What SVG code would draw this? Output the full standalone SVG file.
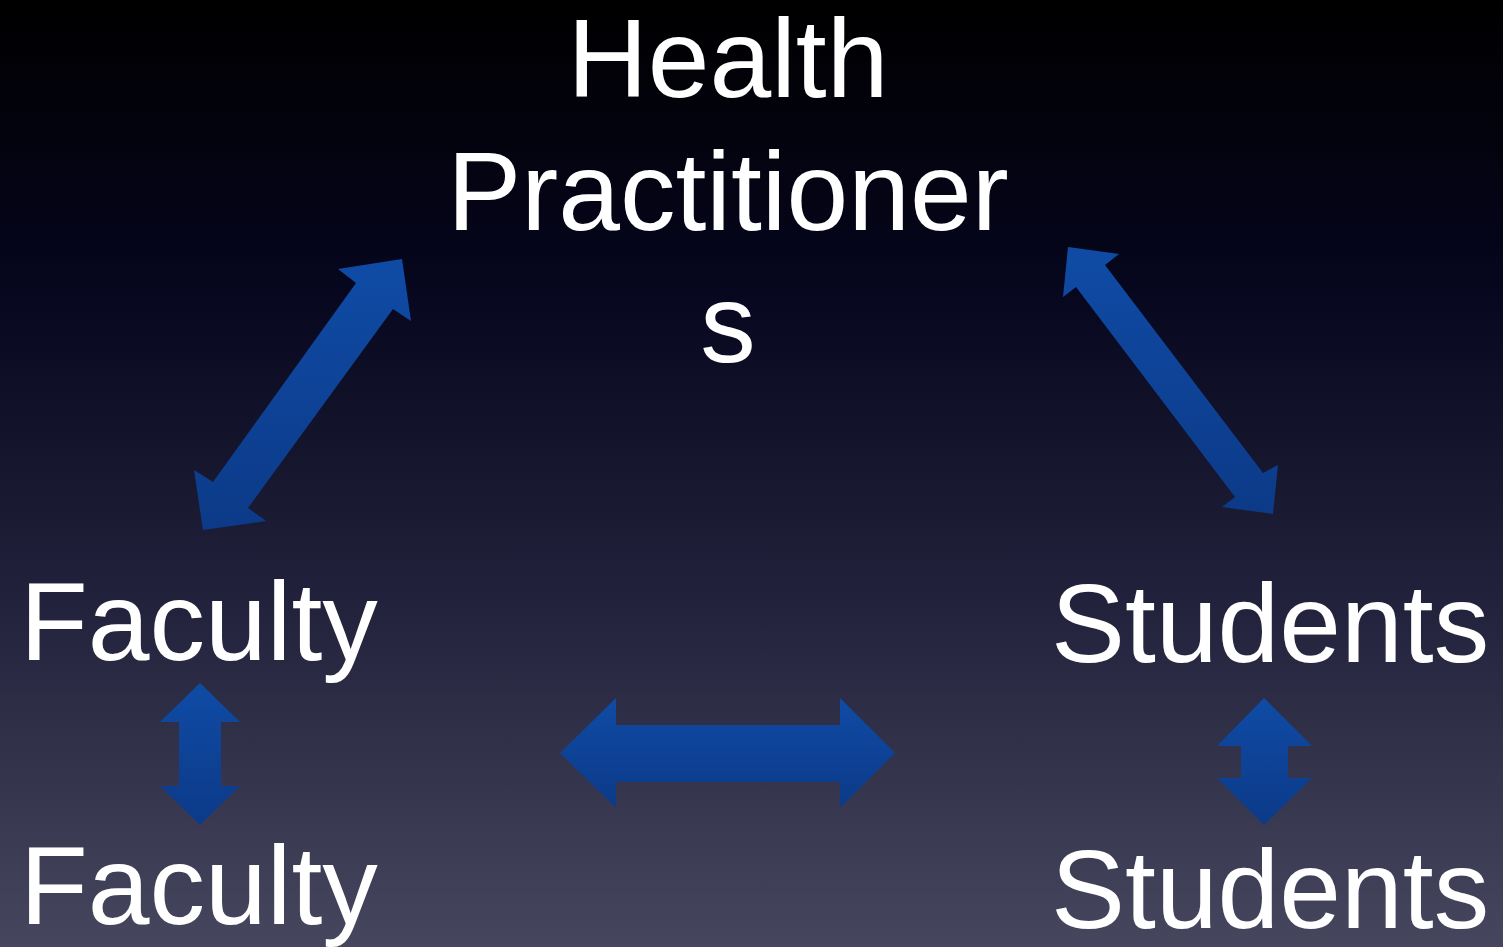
<svg xmlns="http://www.w3.org/2000/svg" width="1503" height="947" viewBox="0 0 1503 947">
<defs>
<linearGradient id="bg" x1="0" y1="0" x2="0" y2="1">
<stop offset="0" stop-color="#000000"/>
<stop offset="0.3" stop-color="#06061e"/>
<stop offset="0.65" stop-color="#23233d"/>
<stop offset="1" stop-color="#46475e"/>
</linearGradient>
<linearGradient id="arr" x1="0" y1="0" x2="0" y2="1">
<stop offset="0" stop-color="#0f4ba5"/>
<stop offset="1" stop-color="#0c3a88"/>
</linearGradient>
<style>
.lbl{font-family:"Liberation Sans",Arial,sans-serif;font-size:111px;fill:#ffffff}
.arrow{fill:url(#arr)}
</style>
</defs>
<rect width="1503" height="947" fill="url(#bg)"/>
<g id="connectors">
<polygon class="arrow" points="402,259 411,321 393,309 248,508 266,521 203,530 194,470 213,482 356,283 338,269"/>
<polygon class="arrow" points="1068,247 1119,254 1105,265 1263,473 1278,465 1273,514 1222,507 1235,497 1076,287 1063,297"/>
<polygon class="arrow" points="560,753 616,698 616,725 840,725 840,698 895,753 840,808 840,782 616,782 616,808"/>
<polygon class="arrow" points="200,683 240,722 221,722 221,786 240,786 200,825 160,786 179,786 179,722 160,722"/>
<polygon class="arrow" points="1264,698 1312,746 1288,746 1288,778 1312,778 1264,825 1217,778 1241,778 1241,746 1217,746"/>
</g>
<g id="node-health">
<text class="lbl" x="728" y="97" text-anchor="middle">Health</text>
<text class="lbl" x="728" y="230" text-anchor="middle">Practitioner</text>
<text class="lbl" x="728" y="362" text-anchor="middle">s</text>
</g>
<g id="node-faculty-top"><text class="lbl" x="20" y="660">Faculty</text></g>
<g id="node-students-top"><text class="lbl" x="1051" y="662">Students</text></g>
<g id="node-faculty-bottom"><text class="lbl" x="20" y="924">Faculty</text></g>
<g id="node-students-bottom"><text class="lbl" x="1051" y="928">Students</text></g>
</svg>
